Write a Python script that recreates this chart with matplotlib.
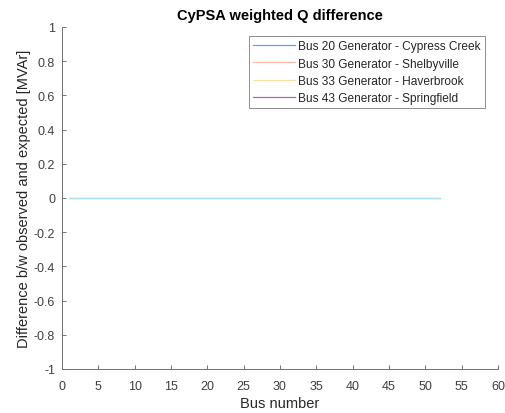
import matplotlib
matplotlib.use("Agg")
import matplotlib.pyplot as plt
import numpy as np

plt.rcParams['font.family'] = ['Liberation Sans', 'DejaVu Sans']

buses = list(range(1, 53))
cypress_creek = [0.0] * 52
shelbyville = [0.0] * 52
haverbrook = [0.0] * 52
springfield = [0.0] * 52

names = ["Bus 20 Generator - Cypress Creek", "Bus 30 Generator - Shelbyville",
         "Bus 33 Generator - Haverbrook", "Bus 43 Generator - Springfield"]
legend_colors = ["#5aa6e0", "#f5bca6", "#f8e0a4", "#a867ba"]
line_colors = ["#ace2f3", "#f2b49c", "#f7dc9a", "#9c5aae"]
zorders = [4, 3, 2, 1]
data = [cypress_creek, shelbyville, haverbrook, springfield]

fig = plt.figure(figsize=(5.06, 4.14), dpi=100)
ax = fig.add_axes([62/506, 1-370/414, (498-62)/506, (370-28)/414])

for name, vals, col, z in zip(names, data, line_colors, zorders):
    ax.plot(buses, vals, color=col, lw=0.8, label=name, zorder=z)

ax.set_xlim(0, 60)
ax.set_ylim(-1, 1)
ax.set_xticks(np.arange(0, 61, 5))
ax.set_yticks(np.round(np.arange(-1, 1.01, 0.2), 1))
ax.set_yticklabels(['-1', '-0.8', '-0.6', '-0.4', '-0.2', '0', '0.2', '0.4', '0.6', '0.8', '1'])
for s in ['top', 'right']:
    ax.spines[s].set_visible(False)
for s in ['left', 'bottom']:
    ax.spines[s].set_color('#707070')
    ax.spines[s].set_linewidth(0.7)
ax.tick_params(direction='in', length=3, width=0.7, colors='#707070', labelsize=9, labelcolor='#404040')
ax.tick_params(axis='x', pad=8)
ax.tick_params(axis='y', pad=5)

ax.set_title('CyPSA weighted Q difference', fontsize=10.5, fontweight='bold', color='black', pad=6)
ax.set_xlabel('Bus number', fontsize=10.5, color='#262626', labelpad=3)
ax.set_ylabel('Difference b/w observed and expected [MVAr]', fontsize=10.5, color='#262626', labelpad=2)

leg = ax.legend(loc='upper right', bbox_to_anchor=(485/436 - 62/436, (370-37)/342), fontsize=8.6, frameon=True,
                fancybox=False, edgecolor='#707070', handlelength=3.5, handletextpad=0.3, borderpad=0.35,
                labelspacing=0.45, borderaxespad=0)
leg.get_frame().set_linewidth(0.7)
for t in leg.get_texts():
    t.set_color('#262626')
for h, c in zip(leg.get_lines(), legend_colors):
    h.set_color(c)
    h.set_linewidth(0.9)

fig.savefig('out.png', dpi=100)
